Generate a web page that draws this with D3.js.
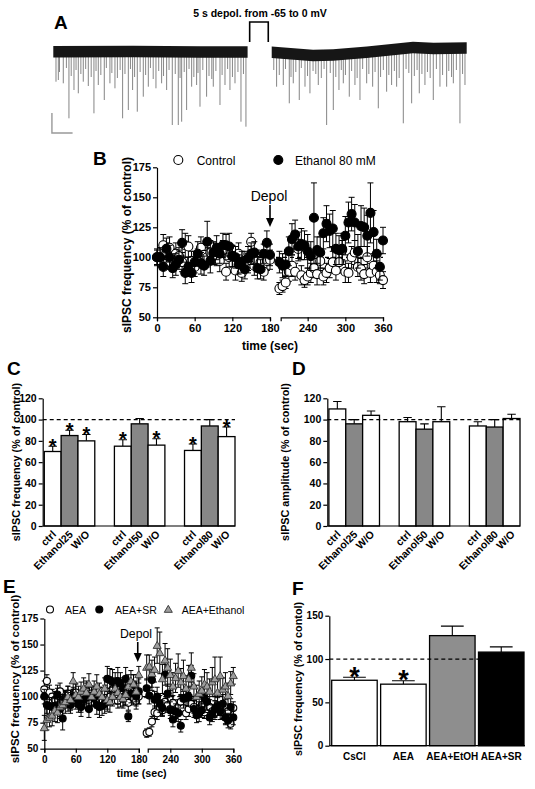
<!DOCTYPE html>
<html><head><meta charset="utf-8">
<script src="https://cdn.jsdelivr.net/npm/d3@7"></script>
<style>body{margin:0;background:#fff} svg{display:block}</style>
</head><body><svg id="c" width="535" height="789"></svg>
<script>
// ================= DATA =================
// Panel A : recording trace (time in s, current in pA relative to baseline)
const traceBaseLeft  = [[0,-1.7],[11.6,-1.5],[21.3,-2],[28.2,-2]];
const traceBaseRight = [[31.7,-2.3],[37.7,-5.5],[40.6,-5],[45.5,-2.3],[52.2,2.5],[55.2,1.5],[60,2]];
const noiseAmp = 5.8;
const bigSpikes = [[0.39,31.7],[0.73,30],[1.45,33.3],[2.27,68.3],[3.0,40],[3.63,43.3],[4.35,31.7],[5.08,36],[5.9,63.3],[6.53,35],[7.4,50],[8.22,33.3],[8.95,38.3],[10.06,68.3],[10.89,60],[11.51,40],[12.19,61.7],[13.06,46.7],[13.79,36.7],[14.9,38.3],[15.72,33.3],[16.45,40],[17.27,75],[18.14,75],[18.63,71.7],[19.35,60],[20.08,36.7],[20.8,35],[21.29,56.7],[22.25,46.7],[23.22,36.7],[24.19,55],[24.92,35],[25.64,40],[26.37,33.3],[27.24,71.7],[27.96,76.7],
  [32.41,36.7],[33.38,35],[34.25,53.3],[34.83,33.3],[35.7,50],[36.53,36.7],[37.25,43.3],[38.46,35],[39.67,75],[40.64,60],[41.46,40],[42.09,33.3],[42.96,46.7],[43.78,35],[44.51,50],[45.48,33.3],[46.35,36.7],[47.17,58.3],[48.38,41.7],[49.1,35],[49.83,36.7],[50.8,73.3],[52.01,53.3],[53.12,43.3],[53.94,35],[55.15,50],[56.12,36.7],[57.09,36.7],[58.06,33.3],[59.02,73.3],[59.75,35]];
const smallSpikes = [[0.9,22],[1.9,18],[2.6,26],[3.3,20],[4.0,24],[4.7,19],[5.5,27],[6.2,21],[6.9,25],[7.7,18],[8.5,23],[9.3,28],[9.7,20],[10.4,24],[11.2,19],[11.8,27],[12.6,22],[13.4,25],[14.1,18],[14.5,29],[15.3,21],[16.0,26],[16.8,20],[17.7,24],[18.4,28],[19.0,22],[19.7,19],[20.4,27],[21.0,23],[21.7,20],[22.6,26],[23.0,29],[23.6,21],[24.5,25],[25.3,19],[26.0,27],[26.8,22],[27.6,24],
  [32.0,20],[32.8,25],[33.7,19],[34.5,27],[35.2,22],[36.0,18],[36.9,26],[37.7,21],[38.1,24],[38.9,28],[39.3,19],[40.2,23],[41.0,27],[41.8,20],[42.4,25],[43.3,21],[44.1,28],[44.9,19],[45.8,24],[46.7,22],[47.5,27],[47.9,20],[48.7,25],[49.5,21],[50.2,28],[51.2,19],[51.6,23],[52.4,26],[52.8,20],[53.5,24],[54.3,22],[54.7,28],[55.6,19],[56.5,25],[57.4,21],[57.8,27],[58.5,20],[59.4,24]];
const stepTimes = [28.5, 31.2];
const stepLevels = [-65, 0];       // mV
const scaleBarPA = 20, scaleBarS = 3;

// Panel B : time course, control vs ethanol 80 mM
const tLeft  = [0,5,10,15,20,25,30,35,40,45,50,55,60,65,70,75,80,85,90,95,100,105,110,115,120,125,130,135,140,145,150,155,160,165,170,175,180];
const tRight = [195,200,205,210,215,220,225,230,235,240,245,250,255,260,265,270,275,280,285,290,295,300,305,310,315,320,325,330,335,340,345,350,355,360];
const bCtrlL = [100,100,110,104,108,99,103,101,96,110,109,97,92,99,108,102,100,104,103,101,97,106,88,100,101,89,103,87,97,95,113,93,97,96,88,97,98];
const bCtrlLErr = [7,8,9,8,9,8,9,7,8,10,9,8,8,8,9,9,8,10,9,8,9,8,7,8,9,8,9,7,8,8,7,8,9,8,7,8,8];
const bEthL = [100,100,92,107,100,91,94,98,112,87,92,87,96,103,95,93,113,97,104,108,103,110,110,109,101,100,94,96,90,99,103,104,91,90,103,112,102];
const bEthLErr = [6,8,8,9,10,8,9,8,11,9,8,8,9,10,9,8,17,10,9,10,8,10,9,11,9,9,8,9,8,10,9,9,9,8,8,10,9];
const bCtrlR = [74,76,79,88,93,88,107,85,81,84,87,91,86,97,84,87,91,96,89,96,106,88,87,100,104,92,90,86,100,87,93,88,85,81];
const bCtrlRErr = [5,5,5,8,9,7,8,8,6,7,8,8,9,8,7,8,8,9,8,9,8,9,8,9,10,8,9,8,9,8,8,9,7,7];
const bEthR = [96,93,94,105,115,119,109,111,110,105,101,133,106,104,120,128,122,124,107,106,107,118,129,136,129,105,126,125,118,137,121,103,92,114];
const bEthRErr = [9,10,9,12,13,12,12,13,12,14,12,29,11,13,13,15,14,15,13,12,13,16,17,14,15,14,17,16,17,25,18,12,11,11];
const bYTicks = [50,75,100,125,150,175];
const bXTicksL = [0,60,120,180], bXTicksR = [240,300,360];

// Panel C / D : bar groups
const cdLabels = ["ctrl","Ethanol25","W/O","ctrl","Ethanol50","W/O","ctrl","Ethanol80","W/O"];
const cdKind   = [0,1,0,0,1,0,0,1,0];   // 0 = ctrl/washout, 1 = ethanol
const cFreq    = [70,85,80,75,96,76,71,94,84];
const cFreqErr = [5,5,6,6,5,6,6,6,9];
const cStars   = [1,1,1,1,0,1,1,0,1];
const dAmp     = [110,96,104,98,91,98,94,93,101];
const dAmpErr  = [7,4,4,4,5,14,4,7,4];
const cdYTicks = [0,20,40,60,80,100,120];

// Panel E : AEA experiments
const eAEAL = [107,115,104,100,97,101,105,95,98,103,96,100,104,98,92,100,106,97,103,99,96,101,97,103,95,100,107,101,96,104,98,100,94,101,99,96,100];
const eAEALErr = [8,6,7,7,8,7,8,7,8,7,9,7,8,8,7,8,7,8,7,8,7,8,7,8,7,8,7,8,7,8,7,8,7,8,7,8,7];
const eAEAR = [65,66,76,85,84,90,87,95,92,88,94,86,90,95,89,84,88,93,90,86,88,92,85,88,90,86,84,92,88,85,80,86,74,89];
const eAEARErr = [4,4,5,6,6,7,6,7,7,6,7,6,7,7,6,6,7,7,6,6,7,7,6,6,7,6,6,7,6,6,6,7,5,6];
const eSRL = [100,92,91,90,91,102,88,79,97,95,92,100,96,93,90,97,99,88,101,99,92,90,91,93,117,116,114,112,115,113,108,117,81,103,111,100,105];
const eSRLErr = [7,8,8,9,8,9,9,11,8,9,8,9,8,8,9,8,9,8,9,8,9,10,9,9,12,11,12,11,13,10,10,11,5,9,10,9,12];
const eSRR = [108,101,116,97,100,93,89,121,103,87,78,86,84,72,98,99,100,120,88,82,84,87,99,95,80,84,88,91,86,93,80,77,90,80];
const eSRRErr = [9,8,10,8,9,8,7,10,9,8,7,7,8,6,9,8,9,10,8,7,8,7,9,8,7,8,8,9,8,9,7,7,8,7];
const eEthL = [70,78,80,82,87,85,90,92,95,100,97,115,102,100,105,108,104,112,100,105,110,103,100,108,97,95,100,108,104,100,98,102,110,115,112,105,121];
const eEthLErr = [12,10,9,10,11,10,9,10,11,10,9,8,11,10,9,10,11,10,9,10,11,10,9,10,11,10,9,10,11,10,9,10,11,10,9,10,8];
const eEthR = [128,129,122,126,149,142,117,135,128,121,110,118,125,114,120,108,117,128,110,100,103,106,112,110,105,114,117,104,120,107,110,101,113,120];
const eEthRErr = [12,11,13,12,17,20,14,16,18,15,13,14,16,13,15,12,13,14,12,11,12,13,14,13,12,14,21,12,18,11,13,12,11,8];

// Panel F
const fLabels = ["CsCl","AEA","AEA+EtOH","AEA+SR"];
const fVals   = [75.5,71,127,108];
const fErr    = [3.5,4,11,6];
const fStars  = [1,1,0,0];
const fYTicks = [0,50,100,150];

// ================= DRAW =================
const FONT = '"Liberation Sans", Arial, Helvetica, sans-serif';
const svg = d3.select("#c").style("font-family", FONT);
const GRAY = "#878787";

function txt(g, x, y, s, size, weight, anchor) {
  return g.append("text").attr("x", x).attr("y", y).text(s)
    .attr("font-size", size).attr("font-weight", weight || 700)
    .attr("text-anchor", anchor || "start").attr("fill", "#000");
}
function styleAxis(sel, fs) {
  sel.selectAll("path,line").attr("stroke", "#000").attr("stroke-width", 1.2);
  sel.selectAll("text").attr("font-size", fs).attr("font-weight", 700)
    .attr("font-family", FONT).attr("fill", "#000");
}

// ---------- Panel A ----------
(function () {
  const g = svg.append("g");
  const xT = d3.scaleLinear().domain([0, 60]).range([53.3, 466.7]);
  const yT = d3.scaleLinear().domain([-90, 10]).range([140, 40]);
  const yS = d3.scaleLinear().domain(stepLevels).range([42, 22]);
  const bl = d3.scaleLinear().domain(traceBaseLeft.map(d => d[0])).range(traceBaseLeft.map(d => d[1]));
  const br = d3.scaleLinear().domain(traceBaseRight.map(d => d[0])).range(traceBaseRight.map(d => d[1]));
  const baseAt = t => t < 30 ? bl(t) : br(t);
  const sp = g.append("g");
  bigSpikes.forEach(s => {
    sp.append("line").attr("x1", xT(s[0])).attr("x2", xT(s[0]))
      .attr("y1", yT(baseAt(s[0]) - noiseAmp + 1)).attr("y2", yT(-s[1]))
      .attr("stroke", "#666").attr("stroke-width", 0.8);
  });
  smallSpikes.forEach(s => {
    sp.append("line").attr("x1", xT(s[0])).attr("x2", xT(s[0]))
      .attr("y1", yT(baseAt(s[0]) - noiseAmp + 1)).attr("y2", yT(-s[1]))
      .attr("stroke", "#555").attr("stroke-width", 0.7);
  });
  [traceBaseLeft, traceBaseRight].forEach(b => {
    const area = d3.area().x(d => xT(d[0])).y0(d => yT(d[1] - noiseAmp)).y1(d => yT(d[1] + noiseAmp));
    g.append("path").attr("d", area(b)).attr("fill", "#161616");
  });
  const stepPts = [[stepTimes[0], stepLevels[0]], [stepTimes[0], stepLevels[1]], [stepTimes[1], stepLevels[1]], [stepTimes[1], stepLevels[0]]];
  g.append("path").attr("d", d3.line().x(d => xT(d[0])).y(d => yS(d[1]))(stepPts))
    .attr("fill", "none").attr("stroke", "#000").attr("stroke-width", 1.6);
  txt(g, 260, 17, "5 s depol. from -65 to 0 mV", 10.5, 700, "middle");
  const sx = xT(-0.2), sy = yT(-83);
  g.append("path").attr("d", `M${sx},${yT(-83 + scaleBarPA)}V${sy}H${xT(-0.2 + scaleBarS)}`)
    .attr("fill", "none").attr("stroke", "#999").attr("stroke-width", 1.4);
  txt(g, 54, 29, "A", 19, 700);
})();

// ---------- time course panels (B, E) ----------
function timePanel(cfg) {
  const g = svg.append("g");
  const x = d3.scaleLinear().domain([0, 360]).range(cfg.xr);
  const y = d3.scaleLinear().domain([50, 175]).range(cfg.yr);
  const ya = g.append("g").attr("transform", `translate(${cfg.xr[0]},0)`)
    .call(d3.axisLeft(y).tickValues(bYTicks).tickSize(4).tickSizeOuter(0).tickPadding(2));
  styleAxis(ya, cfg.tickFs);
  const x1 = d3.scaleLinear().domain([0, 180]).range([x(0), x(180)]);
  const x2 = d3.scaleLinear().domain([cfg.breakEnd, 360]).range([x(cfg.breakEnd), x(360)]);
  const xa1 = g.append("g").attr("transform", `translate(0,${y(50)})`)
    .call(d3.axisBottom(x1).tickValues(bXTicksL).tickSize(4).tickSizeOuter(4).tickPadding(3));
  const xa2 = g.append("g").attr("transform", `translate(0,${y(50)})`)
    .call(d3.axisBottom(x2).tickValues(bXTicksR).tickSize(4).tickSizeOuter(4).tickPadding(3));
  styleAxis(xa1, cfg.tickFs); styleAxis(xa2, cfg.tickFs);
  g.append("line").attr("x1", x(0)).attr("x2", x(360)).attr("y1", y(100)).attr("y2", y(100))
    .attr("stroke", "#000").attr("stroke-width", 1.2).attr("stroke-dasharray", "4,3");
  cfg.series.forEach(s => {
    const pts = tLeft.map((t, i) => [t, s.l[i], s.le[i]]).concat(tRight.map((t, i) => [t, s.r[i], s.re[i]]));
    const gs = g.append("g");
    pts.forEach(p => {
      const cx = x(p[0]), top = y(p[1] + p[2]), bot = y(Math.max(50, p[1] - p[2]));
      gs.append("path").attr("d", `M${cx},${top}V${bot}M${cx - cfg.cap},${top}H${cx + cfg.cap}M${cx - cfg.cap},${bot}H${cx + cfg.cap}`)
        .attr("stroke", "#000").attr("stroke-width", 1).attr("fill", "none");
    });
    pts.forEach(p => drawMarker(gs, s.shape, x(p[0]), y(p[1]), cfg.r));
  });
  return { g, x, y };
}
function drawMarker(g, shape, cx, cy, r) {
  if (shape === "tri") {
    g.append("path").attr("d", d3.symbol(d3.symbolTriangle).size(r * r * 2.3)())
      .attr("transform", `translate(${cx},${cy + 0.5})`)
      .attr("fill", "#9d9d9d").attr("stroke", "#333").attr("stroke-width", 0.9);
  } else {
    g.append("circle").attr("cx", cx).attr("cy", cy).attr("r", r)
      .attr("fill", shape === "open" ? "#fff" : "#000").attr("stroke", "#000").attr("stroke-width", 1.1);
  }
}
function arrow(g, x, y0, y1) {
  g.append("line").attr("x1", x).attr("x2", x).attr("y1", y0).attr("y2", y1 - 6)
    .attr("stroke", "#000").attr("stroke-width", 1.6);
  g.append("path").attr("d", `M${x - 4},${y1 - 9}L${x + 4},${y1 - 9}L${x},${y1}Z`).attr("fill", "#000");
}

// ---------- Panel B ----------
(function () {
  const p = timePanel({
    xr: [157, 383], yr: [317.3, 167.3], breakEnd: 197, tickFs: 11, r: 4.5, cap: 3,
    series: [
      { shape: "open", l: bCtrlL, le: bCtrlLErr, r: bCtrlR, re: bCtrlRErr },
      { shape: "fill", l: bEthL, le: bEthLErr, r: bEthR, re: bEthRErr }
    ]
  });
  const g = p.g;
  txt(g, 93, 165, "B", 19, 700);
  drawMarker(g, "open", 178.3, 160, 4.5); txt(g, 196.7, 164.5, "Control", 12, 400);
  drawMarker(g, "fill", 278.3, 160, 4.5); txt(g, 295, 164.5, "Ethanol 80 mM", 12, 400);
  txt(g, 269, 201, "Depol", 14, 400, "middle");
  arrow(g, p.x(180), 205, 227);
  txt(g, 270, 350, "time (sec)", 12, 700, "middle");
  g.append("text").attr("transform", "translate(131,245) rotate(-90)").attr("text-anchor", "middle")
    .attr("font-size", 12).attr("font-weight", 700).text("sIPSC frequency (% of control)");
})();

// ---------- Panel C/D ----------
function barPanel(cfg) {
  const g = svg.append("g");
  const y = d3.scaleLinear().domain([0, 120]).range([526, 398.3]);
  const xg = d3.scaleBand().domain([0, 1, 2]).range([cfg.x0 + 1.6, cfg.x1]).paddingInner(0.28).paddingOuter(0);
  const xi = d3.scaleBand().domain([0, 1, 2]).range([0, xg.bandwidth()]);
  const bx = i => xg(Math.floor(i / 3)) + xi(i % 3);
  const bw = xi.bandwidth();
  const ya = g.append("g").attr("transform", `translate(${cfg.x0},0)`)
    .call(d3.axisLeft(y).tickValues(cdYTicks).tickSize(4).tickSizeOuter(0).tickPadding(2));
  styleAxis(ya, 10.5);
  cfg.vals.forEach((v, i) => {
    const cx = bx(i) + bw / 2, top = y(v + cfg.err[i]);
    g.append("path").attr("d", `M${cx},${y(v)}V${top}M${cx - bw * 0.25},${top}H${cx + bw * 0.25}`)
      .attr("stroke", "#000").attr("stroke-width", 1.1);
    g.append("rect").attr("x", bx(i)).attr("y", y(v)).attr("width", bw).attr("height", y(0) - y(v))
      .attr("fill", cdKind[i] ? GRAY : "#fff").attr("stroke", "#000").attr("stroke-width", 1.3);
    if (cfg.stars && cfg.stars[i]) txt(g, cx, top + 6.5, "*", 20, 700, "middle");
    g.append("g").attr("transform", `translate(${cx + 4},${y(0) + 9}) rotate(-45)`)
      .append("text").attr("text-anchor", "end").attr("font-size", 10.5).attr("font-weight", 700).text(cdLabels[i]);
  });
  g.append("line").attr("x1", cfg.x0).attr("x2", cfg.x1).attr("y1", y(0)).attr("y2", y(0))
    .attr("stroke", "#000").attr("stroke-width", 1.2);
  g.append("line").attr("x1", cfg.x0).attr("x2", cfg.x1).attr("y1", y(100)).attr("y2", y(100))
    .attr("stroke", "#000").attr("stroke-width", 1.2).attr("stroke-dasharray", "4,3");
  g.append("text").attr("transform", `translate(${cfg.labX},462) rotate(-90)`).attr("text-anchor", "middle")
    .attr("font-size", 10.8).attr("font-weight", 700).text(cfg.ylabel);
  txt(g, cfg.letterX, 375, cfg.letter, 19, 700);
}
barPanel({ x0: 42.7, x1: 235, vals: cFreq, err: cFreqErr, stars: cStars, labX: 19.7,
  ylabel: "sIPSC frequency (% of control)", letter: "C", letterX: 7 });
barPanel({ x0: 327.3, x1: 520, vals: dAmp, err: dAmpErr, stars: null, labX: 288.7,
  ylabel: "sIPSC amplitude (% of control)", letter: "D", letterX: 292 });

// ---------- Panel E ----------
(function () {
  const p = timePanel({
    xr: [44.3, 233.3], yr: [748.7, 618.5], breakEnd: 197, tickFs: 10, r: 3.5, cap: 2.5,
    series: [
      { shape: "open", l: eAEAL, le: eAEALErr, r: eAEAR, re: eAEARErr },
      { shape: "fill", l: eSRL, le: eSRLErr, r: eSRR, re: eSRRErr },
      { shape: "tri", l: eEthL, le: eEthLErr, r: eEthR, re: eEthRErr }
    ]
  });
  const g = p.g;
  txt(g, 3, 593, "E", 19, 700);
  drawMarker(g, "open", 50, 609.5, 3.5); txt(g, 65, 613.5, "AEA", 10.5, 400);
  drawMarker(g, "fill", 99.3, 609.5, 3.5); txt(g, 115, 613.5, "AEA+SR", 10.5, 400);
  drawMarker(g, "tri", 168.3, 609.5, 3.5); txt(g, 181.7, 613.5, "AEA+Ethanol", 10.5, 400);
  txt(g, 136, 638, "Depol", 12.3, 400, "middle");
  arrow(g, p.x(178), 642, 662);
  txt(g, 141.7, 777, "time (sec)", 10.7, 700, "middle");
  g.append("text").attr("transform", "translate(19,679) rotate(-90)").attr("text-anchor", "middle")
    .attr("font-size", 11.5).attr("font-weight", 700).text("sIPSC frequency (% of control)");
})();

// ---------- Panel F ----------
(function () {
  const g = svg.append("g");
  const y = d3.scaleLinear().domain([0, 150]).range([745.7, 615.7]);
  const x = d3.scaleBand().domain(fLabels).range([331.7, 524]).paddingInner(0.07).paddingOuter(0);
  const ya = g.append("g").attr("transform", "translate(329.3,0)")
    .call(d3.axisLeft(y).tickValues(fYTicks).tickSize(4).tickSizeOuter(0).tickPadding(2));
  styleAxis(ya, 10);
  const fills = ["#fff", "#fff", "#8e8e8e", "#000"];
  fLabels.forEach((l, i) => {
    const cx = x(l) + x.bandwidth() / 2, top = y(fVals[i] + fErr[i]);
    g.append("path").attr("d", `M${cx},${y(fVals[i])}V${top}M${cx - x.bandwidth() * 0.25},${top}H${cx + x.bandwidth() * 0.25}`)
      .attr("stroke", "#000").attr("stroke-width", 1.1);
    g.append("rect").attr("x", x(l)).attr("y", y(fVals[i])).attr("width", x.bandwidth()).attr("height", y(0) - y(fVals[i]))
      .attr("fill", fills[i]).attr("stroke", "#000").attr("stroke-width", 1.3);
    if (fStars[i]) txt(g, cx, top + 8.5, "*", 27, 700, "middle");
    txt(g, cx, 760, l, 10, 700, "middle");
  });
  g.append("line").attr("x1", 329.3).attr("x2", 525).attr("y1", y(0)).attr("y2", y(0))
    .attr("stroke", "#000").attr("stroke-width", 1.2);
  g.append("line").attr("x1", 329.3).attr("x2", 525).attr("y1", y(100)).attr("y2", y(100))
    .attr("stroke", "#000").attr("stroke-width", 1.2).attr("stroke-dasharray", "4,3");
  g.append("text").attr("transform", "translate(301.5,679) rotate(-90)").attr("text-anchor", "middle")
    .attr("font-size", 10.8).attr("font-weight", 700).text("sIPSC frequency (% of contol)");
  txt(g, 292, 595, "F", 19, 700);
})();
</script></body></html>
